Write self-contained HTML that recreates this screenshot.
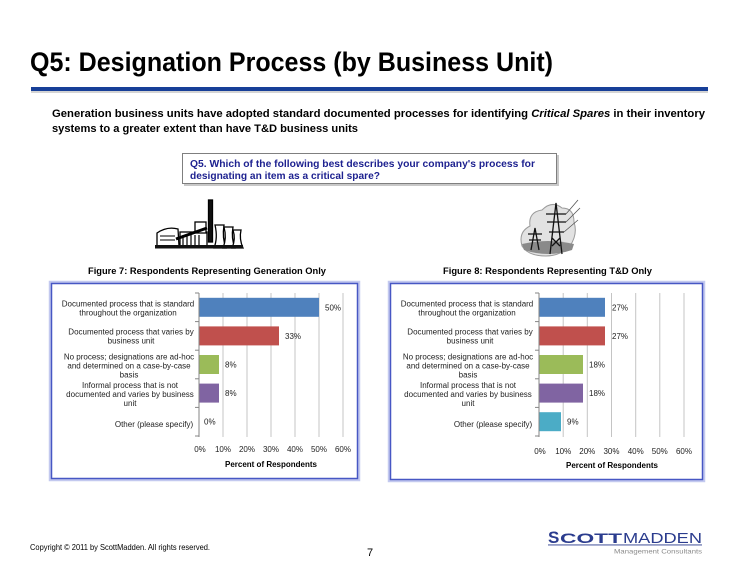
<!DOCTYPE html>
<html>
<head>
<meta charset="utf-8">
<style>
  html,body{margin:0;padding:0;background:#fff;}
  svg{display:block;}
  text{font-family:"Liberation Sans",Arial,sans-serif;}
</style>
</head>
<body>
<svg width="740" height="572" viewBox="0 0 740 572" xmlns="http://www.w3.org/2000/svg">
  <rect width="740" height="572" fill="#fff"/>

  <!-- Title -->
  <text x="30" y="71" font-size="26.5" font-weight="bold" fill="#000" textLength="523" lengthAdjust="spacingAndGlyphs">Q5:  Designation Process (by Business Unit)</text>
  <rect x="31" y="91" width="677" height="2" fill="#d4d4d4"/>
  <rect x="31" y="87" width="677" height="4" fill="#173f98"/>

  <!-- Subtitle -->
  <text x="52" y="117" font-size="11" font-weight="bold" fill="#000" textLength="653" lengthAdjust="spacingAndGlyphs">Generation business units have adopted standard documented processes for identifying <tspan font-style="italic">Critical Spares</tspan> in their inventory</text>
  <text x="52" y="132" font-size="11" font-weight="bold" fill="#000" textLength="306" lengthAdjust="spacingAndGlyphs">systems to a greater extent than have T&amp;D business units</text>

  <!-- Question box -->
  <rect x="184" y="155" width="375" height="31" fill="#c8c8c8"/>
  <rect x="182.5" y="153.5" width="374" height="30" fill="#fff" stroke="#7f7f7f" stroke-width="1"/>
  <text x="190" y="167" font-size="10.5" font-weight="bold" fill="#1e2290" textLength="345" lengthAdjust="spacingAndGlyphs">Q5.  Which of the following best describes your company's process for</text>
  <text x="190" y="179" font-size="10.5" font-weight="bold" fill="#1e2290" textLength="190" lengthAdjust="spacingAndGlyphs">designating an item as a critical spare?</text>

  <!-- Power plant icon -->
  <g stroke="#000" fill="#fff" stroke-width="1.3">
    <rect x="208.5" y="200" width="4" height="42" fill="#111"/>
    <path d="M214 248 Q218 238 215 225 L224 225 Q222 238 226 248 Z"/>
    <path d="M223 248 Q227 238 224 227 L233 227 Q231 238 235 248 Z"/>
    <path d="M232 248 Q236 239 233 230 L241 230 Q239 239 243 248 Z"/>
    <path d="M157 246 L157 233 Q167 226 178 229 L179 246 Z"/>
    <rect x="180" y="232" width="27" height="14"/>
    <rect x="195" y="222" width="11" height="11"/>
    <path d="M176 239 L207 228" stroke-width="3"/>
    <path d="M183 235 L183 246 M187 235 L187 246 M191 235 L191 246 M195 235 L195 246 M199 235 L199 246" stroke-width="1.2"/>
    <path d="M160 236 L175 236 M160 240 L175 240" stroke-width="1"/>
  </g>
  <rect x="155" y="245" width="88" height="3.5" fill="#111"/>

  <!-- Transmission tower icon -->
  <g>
    <path d="M522 246 Q518 232 530 226 Q528 212 542 210 Q552 200 562 208 Q574 208 574 222 Q578 234 570 246 Q560 256 546 256 Q528 256 522 246 Z" fill="#e2e2e2" stroke="#9a9a9a" stroke-width="1"/>
    <path d="M522 244 Q548 238 574 244 L572 250 Q548 258 524 250 Z" fill="#8a8a8a"/>
    <g stroke="#111" stroke-width="1.3" fill="none">
      <path d="M550 254 L556 203 L562 254"/>
      <path d="M546 214 L566 214 M547 222 L566 222 M549 232 L564 232"/>
      <path d="M552 238 L560 246 M560 238 L552 246"/>
      <path d="M531 250 L535 228 L539 250"/>
      <path d="M528 234 L542 234 M529 240 L541 240"/>
    </g>
    <g stroke="#555" stroke-width="0.8">
      <path d="M566 214 L578 200 M566 222 L580 208 M564 232 L578 220"/>
    </g>
  </g>

  <!-- Figure captions -->
  <text x="88" y="274" font-size="9.5" font-weight="bold" fill="#000" textLength="238" lengthAdjust="spacingAndGlyphs">Figure 7:  Respondents Representing Generation Only</text>
  <text x="443" y="274" font-size="9.5" font-weight="bold" fill="#000" textLength="209" lengthAdjust="spacingAndGlyphs">Figure 8:  Respondents Representing T&amp;D Only</text>

  <!-- ===== LEFT CHART ===== -->
  <rect x="50" y="282" width="309" height="198" fill="none" stroke="#c3c9ef" stroke-width="2.5"/>
  <rect x="51.5" y="283.5" width="306" height="195" fill="#fff" stroke="#4757c4" stroke-width="1.5"/>
  <g stroke="#c4c4c4" stroke-width="1">
    <line x1="223" y1="293" x2="223" y2="437"/>
    <line x1="247" y1="293" x2="247" y2="437"/>
    <line x1="271" y1="293" x2="271" y2="437"/>
    <line x1="295" y1="293" x2="295" y2="437"/>
    <line x1="319" y1="293" x2="319" y2="437"/>
    <line x1="343" y1="293" x2="343" y2="437"/>
  </g>
  <rect x="199" y="297.8" width="120" height="19" fill="#4f81bd"/>
  <rect x="199" y="326.4" width="80" height="19" fill="#c0504d"/>
  <rect x="199" y="355" width="20" height="19" fill="#9bbb59"/>
  <rect x="199" y="383.6" width="20" height="19" fill="#8064a2"/>
  <g stroke="#868686" stroke-width="1">
    <line x1="199" y1="293" x2="199" y2="437"/>
    <line x1="195" y1="293" x2="199" y2="293"/>
    <line x1="195" y1="321.6" x2="199" y2="321.6"/>
    <line x1="195" y1="350.2" x2="199" y2="350.2"/>
    <line x1="195" y1="378.8" x2="199" y2="378.8"/>
    <line x1="195" y1="407.4" x2="199" y2="407.4"/>
    <line x1="195" y1="436" x2="199" y2="436"/>
  </g>
  <g font-size="8" fill="#222" text-anchor="middle">
    <text x="128" y="306.5">Documented process that is standard</text>
    <text x="128" y="315.5">throughout the organization</text>
    <text x="131" y="334.5">Documented process that varies by</text>
    <text x="131" y="343.5">business unit</text>
    <text x="129" y="359.5">No process; designations are ad-hoc</text>
    <text x="129" y="368.5">and determined on a case-by-case</text>
    <text x="129" y="377.5">basis</text>
    <text x="130" y="388">Informal process that is not</text>
    <text x="130" y="397">documented and varies by business</text>
    <text x="130" y="406">unit</text>
    <text x="154" y="427">Other (please specify)</text>
  </g>
  <g font-size="8" fill="#222">
    <text x="325" y="310.3">50%</text>
    <text x="285" y="338.9">33%</text>
    <text x="225" y="367.5">8%</text>
    <text x="225" y="396.1">8%</text>
    <text x="204" y="424.7">0%</text>
  </g>
  <g font-size="8" fill="#222" text-anchor="middle">
    <text x="200" y="452">0%</text>
    <text x="223" y="452">10%</text>
    <text x="247" y="452">20%</text>
    <text x="271" y="452">30%</text>
    <text x="295" y="452">40%</text>
    <text x="319" y="452">50%</text>
    <text x="343" y="452">60%</text>
  </g>
  <text x="271" y="467" font-size="8" font-weight="bold" fill="#000" text-anchor="middle">Percent of Respondents</text>

  <!-- ===== RIGHT CHART ===== -->
  <rect x="389" y="282" width="315" height="199" fill="none" stroke="#c3c9ef" stroke-width="2.5"/>
  <rect x="390.5" y="283.5" width="312" height="196" fill="#fff" stroke="#4757c4" stroke-width="1.5"/>
  <g stroke="#c4c4c4" stroke-width="1">
    <line x1="563.2" y1="293" x2="563.2" y2="437"/>
    <line x1="587.3" y1="293" x2="587.3" y2="437"/>
    <line x1="611.5" y1="293" x2="611.5" y2="437"/>
    <line x1="635.7" y1="293" x2="635.7" y2="437"/>
    <line x1="659.8" y1="293" x2="659.8" y2="437"/>
    <line x1="684" y1="293" x2="684" y2="437"/>
  </g>
  <rect x="539" y="297.8" width="66" height="19" fill="#4f81bd"/>
  <rect x="539" y="326.4" width="66" height="19" fill="#c0504d"/>
  <rect x="539" y="355" width="44" height="19" fill="#9bbb59"/>
  <rect x="539" y="383.6" width="44" height="19" fill="#8064a2"/>
  <rect x="539" y="412.2" width="22" height="19" fill="#4bacc6"/>
  <g stroke="#868686" stroke-width="1">
    <line x1="539" y1="293" x2="539" y2="437"/>
    <line x1="535" y1="293" x2="539" y2="293"/>
    <line x1="535" y1="321.6" x2="539" y2="321.6"/>
    <line x1="535" y1="350.2" x2="539" y2="350.2"/>
    <line x1="535" y1="378.8" x2="539" y2="378.8"/>
    <line x1="535" y1="407.4" x2="539" y2="407.4"/>
    <line x1="535" y1="436" x2="539" y2="436"/>
  </g>
  <g font-size="8" fill="#222" text-anchor="middle">
    <text x="467" y="306.5">Documented process that is standard</text>
    <text x="467" y="315.5">throughout the organization</text>
    <text x="470" y="334.5">Documented process that varies by</text>
    <text x="470" y="343.5">business unit</text>
    <text x="468" y="359.5">No process; designations are ad-hoc</text>
    <text x="468" y="368.5">and determined on a case-by-case</text>
    <text x="468" y="377.5">basis</text>
    <text x="468" y="388">Informal process that is not</text>
    <text x="468" y="397">documented and varies by business</text>
    <text x="468" y="406">unit</text>
    <text x="493" y="427">Other (please specify)</text>
  </g>
  <g font-size="8" fill="#222">
    <text x="612" y="310.3">27%</text>
    <text x="612" y="338.9">27%</text>
    <text x="589" y="367.5">18%</text>
    <text x="589" y="396.1">18%</text>
    <text x="567" y="424.7">9%</text>
  </g>
  <g font-size="8" fill="#222" text-anchor="middle">
    <text x="540" y="454">0%</text>
    <text x="563.2" y="454">10%</text>
    <text x="587.3" y="454">20%</text>
    <text x="611.5" y="454">30%</text>
    <text x="635.7" y="454">40%</text>
    <text x="659.8" y="454">50%</text>
    <text x="684" y="454">60%</text>
  </g>
  <text x="612" y="468" font-size="8" font-weight="bold" fill="#000" text-anchor="middle">Percent of Respondents</text>

  <!-- Footer -->
  <text x="30" y="550" font-size="8.5" fill="#000" textLength="180" lengthAdjust="spacingAndGlyphs">Copyright © 2011 by ScottMadden.  All rights reserved.</text>
  <text x="370" y="556" font-size="11" fill="#000" text-anchor="middle">7</text>

  <!-- Logo -->
  <text x="548" y="543" font-size="17" font-weight="bold" fill="#2b3c8e">S</text>
  <text x="560" y="543" font-size="13.5" font-weight="bold" fill="#2b3c8e" textLength="62" lengthAdjust="spacingAndGlyphs">COTT</text>
  <text x="623" y="543" font-size="14.8" fill="#2b3c8e" textLength="79" lengthAdjust="spacingAndGlyphs">MADDEN</text>
  <rect x="548" y="544.5" width="154" height="0.9" fill="#2b3c8e"/>
  <text x="614" y="553.5" font-size="6.5" fill="#8a8a8a" textLength="88" lengthAdjust="spacingAndGlyphs">Management Consultants</text>
</svg>
</body>
</html>
